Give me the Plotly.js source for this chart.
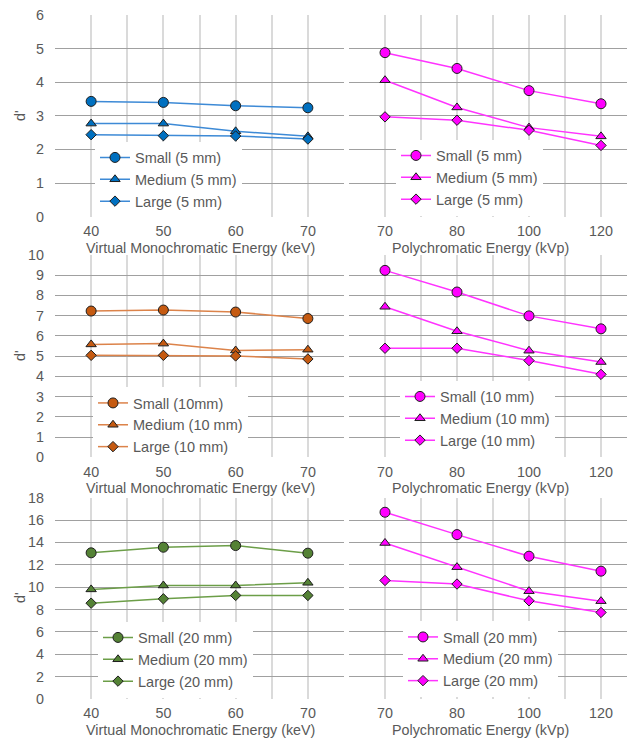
<!DOCTYPE html>
<html><head><meta charset="utf-8">
<script src="https://cdn.plot.ly/plotly-3.0.1.min.js"></script>
<style>html,body{margin:0;padding:0;background:#fff}#chart{width:627px;height:738px}</style>
</head><body><div id="chart"></div>
<script>
// ---- categories ----
const vmiEnergies = ['40', '50', '60', '70'];
const polyEnergies = ['70', '80', '100', '120'];

// ---- titles / labels ----
const vmiTitle = 'Virtual Monochromatic Energy (keV)';
const polyTitle = 'Polychromatic Energy (kVp)';
const yTitle = "d'";
const legend5Vmi = ['Small (5 mm)', 'Medium (5 mm)', 'Large (5 mm)'];
const legend5Poly = ['Small (5 mm)', 'Medium (5 mm)', 'Large (5 mm)'];
const legend10Vmi = ['Small (10mm)', 'Medium (10 mm)', 'Large (10 mm)'];
const legend10Poly = ['Small (10 mm)', 'Medium (10 mm)', 'Large (10 mm)'];
const legend20Vmi = ['Small (20 mm)', 'Medium (20 mm)', 'Large (20 mm)'];
const legend20Poly = ['Small (20 mm)', 'Medium (20 mm)', 'Large (20 mm)'];

// ---- 5 mm ----
const vmiSmall5 = [3.43, 3.40, 3.30, 3.24];
const vmiMedium5 = [2.77, 2.77, 2.54, 2.39];
const vmiLarge5 = [2.44, 2.41, 2.40, 2.31];
const polySmall5 = [4.88, 4.41, 3.75, 3.36];
const polyMedium5 = [4.06, 3.25, 2.65, 2.39];
const polyLarge5 = [2.97, 2.87, 2.57, 2.12];

// ---- 10 mm ----
const vmiSmall10 = [7.23, 7.28, 7.18, 6.86];
const vmiMedium10 = [5.58, 5.62, 5.28, 5.32];
const vmiLarge10 = [5.04, 5.04, 5.01, 4.86];
const polySmall10 = [9.24, 8.17, 6.99, 6.35];
const polyMedium10 = [7.44, 6.23, 5.27, 4.71];
const polyLarge10 = [5.39, 5.39, 4.78, 4.10];

// ---- 20 mm ----
const vmiSmall20 = [13.07, 13.57, 13.72, 13.04];
const vmiMedium20 = [9.80, 10.15, 10.15, 10.39];
const vmiLarge20 = [8.57, 8.96, 9.26, 9.26];
const polySmall20 = [16.70, 14.70, 12.77, 11.43];
const polyMedium20 = [13.95, 11.79, 9.64, 8.75];
const polyLarge20 = [10.60, 10.28, 8.78, 7.74];

// ---- layout helpers (pixel geometry) ----
const W = 627, H = 738;
const px = v => v / W;
const py = v => (H - v) / H;

const rows = [
  {top: 15, bottom: 216.7, ymax: 6, dtick: 1, titleY: 248, dY: 116},
  {top: 255, bottom: 457.3, ymax: 10, dtick: 1, titleY: 488, dY: 356},
  {top: 497.7, bottom: 699, ymax: 18, dtick: 2, titleY: 730, dY: 598}
];
const cols = [
  {left: 55, right: 344, rmax: 3.5, cats: vmiEnergies, title: vmiTitle, titleX: 200},
  {left: 349, right: 627, rmax: -0.5 + 278 / 72, cats: polyEnergies, title: polyTitle, titleX: 480}
];

const palette = {
  blue: {fill: '#0070c0', line: '#3d8ad6'},
  orange: {fill: '#c55a11', line: '#dc834a'},
  green: {fill: '#548235', line: '#6c9e48'},
  magenta: {fill: '#ff00ff', line: '#ff33ff'}
};

const panels = [
  {r: 0, c: 0, series: [vmiSmall5, vmiMedium5, vmiLarge5], names: legend5Vmi, pal: palette.blue, leg: {x: 95, y: 179.5}},
  {r: 0, c: 1, series: [polySmall5, polyMedium5, polyLarge5], names: legend5Poly, pal: palette.magenta, leg: {x: 396, y: 177.5}},
  {r: 1, c: 0, series: [vmiSmall10, vmiMedium10, vmiLarge10], names: legend10Vmi, pal: palette.orange, leg: {x: 93, y: 425}},
  {r: 1, c: 1, series: [polySmall10, polyMedium10, polyLarge10], names: legend10Poly, pal: palette.magenta, leg: {x: 400, y: 418.5}},
  {r: 2, c: 0, series: [vmiSmall20, vmiMedium20, vmiLarge20], names: legend20Vmi, pal: palette.green, leg: {x: 98, y: 659.5}},
  {r: 2, c: 1, series: [polySmall20, polyMedium20, polyLarge20], names: legend20Poly, pal: palette.magenta, leg: {x: 403, y: 659}}
];

const symbols = ['circle', 'triangle-up', 'diamond'];
const sizes = [10, 9, 8];
const fontFam = 'Liberation Sans, Arial, sans-serif';
const textColor = '#595959';

const traces = [];
const layout = {
  width: W, height: H,
  margin: {l: 0, r: 0, t: 0, b: 0},
  paper_bgcolor: '#ffffff', plot_bgcolor: '#ffffff',
  font: {family: fontFam, size: 14, color: textColor},
  showlegend: true,
  annotations: []
};

panels.forEach((p, i) => {
  const k = i + 1;
  const row = rows[p.r], col = cols[p.c];
  const xa = 'x' + (k === 1 ? '' : k), ya = 'y' + (k === 1 ? '' : k);
  const xKey = 'xaxis' + (k === 1 ? '' : k), yKey = 'yaxis' + (k === 1 ? '' : k);
  const legKey = 'legend' + (k === 1 ? '' : k);

  const tickvals = [], ticktext = [];
  for (let v = -0.5; v <= 3.5; v += 0.5) {
    tickvals.push(v);
    ticktext.push(Number.isInteger(v) ? col.cats[v] : '');
  }
  layout[xKey] = {
    domain: [px(col.left), px(col.right)],
    anchor: ya,
    range: [-0.5, col.rmax],
    tickmode: 'array', tickvals, ticktext,
    showgrid: true, gridcolor: '#dadada', gridwidth: 2,
    zeroline: false, showline: false, ticks: '',
    ticklabelstandoff: 4,
    tickfont: {size: 14.3, color: textColor}
  };
  layout[yKey] = {
    domain: [py(row.bottom), py(row.top)],
    anchor: xa,
    range: [0, row.ymax], dtick: row.dtick, tick0: 0,
    showgrid: true, gridcolor: '#a0a0a0', gridwidth: 1,
    zeroline: false, showline: false, ticks: '',
    showticklabels: p.c === 0,
    ticklabelstandoff: 10,
    tickfont: {size: 14.3, color: textColor}
  };
  layout[legKey] = {
    x: px(p.leg.x), y: py(p.leg.y), xanchor: 'left', yanchor: 'middle',
    bgcolor: '#ffffff', borderwidth: 0,
    font: {size: 14.5, color: textColor, family: fontFam},
    tracegroupgap: 0, itemclick: false, itemdoubleclick: false
  };

  p.series.forEach((vals, s) => {
    traces.push({
      type: 'scatter', mode: 'lines+markers',
      x: col.cats.map((_, j) => j), y: vals,
      name: p.names[s], xaxis: xa, yaxis: ya, legend: legKey,
      line: {color: p.pal.line, width: 1.5},
      marker: {symbol: symbols[s], size: sizes[s], color: p.pal.fill, line: {color: '#1e1e1e', width: 1}},
      cliponaxis: false
    });
  });

  layout.annotations.push({
    text: col.title, xref: 'paper', yref: 'paper',
    x: px(col.titleX), y: py(row.titleY), xanchor: 'center', yanchor: 'middle',
    showarrow: false, font: {size: 14.3, color: textColor}
  });
  if (p.c === 0) {
    layout.annotations.push({
      text: yTitle, xref: 'paper', yref: 'paper', textangle: -90,
      x: px(20), y: py(row.dY), xanchor: 'center', yanchor: 'middle',
      showarrow: false, font: {size: 14.3, color: textColor}
    });
  }
});

Plotly.newPlot('chart', traces, layout, {displayModeBar: false, staticPlot: true});
</script>
</body></html>
